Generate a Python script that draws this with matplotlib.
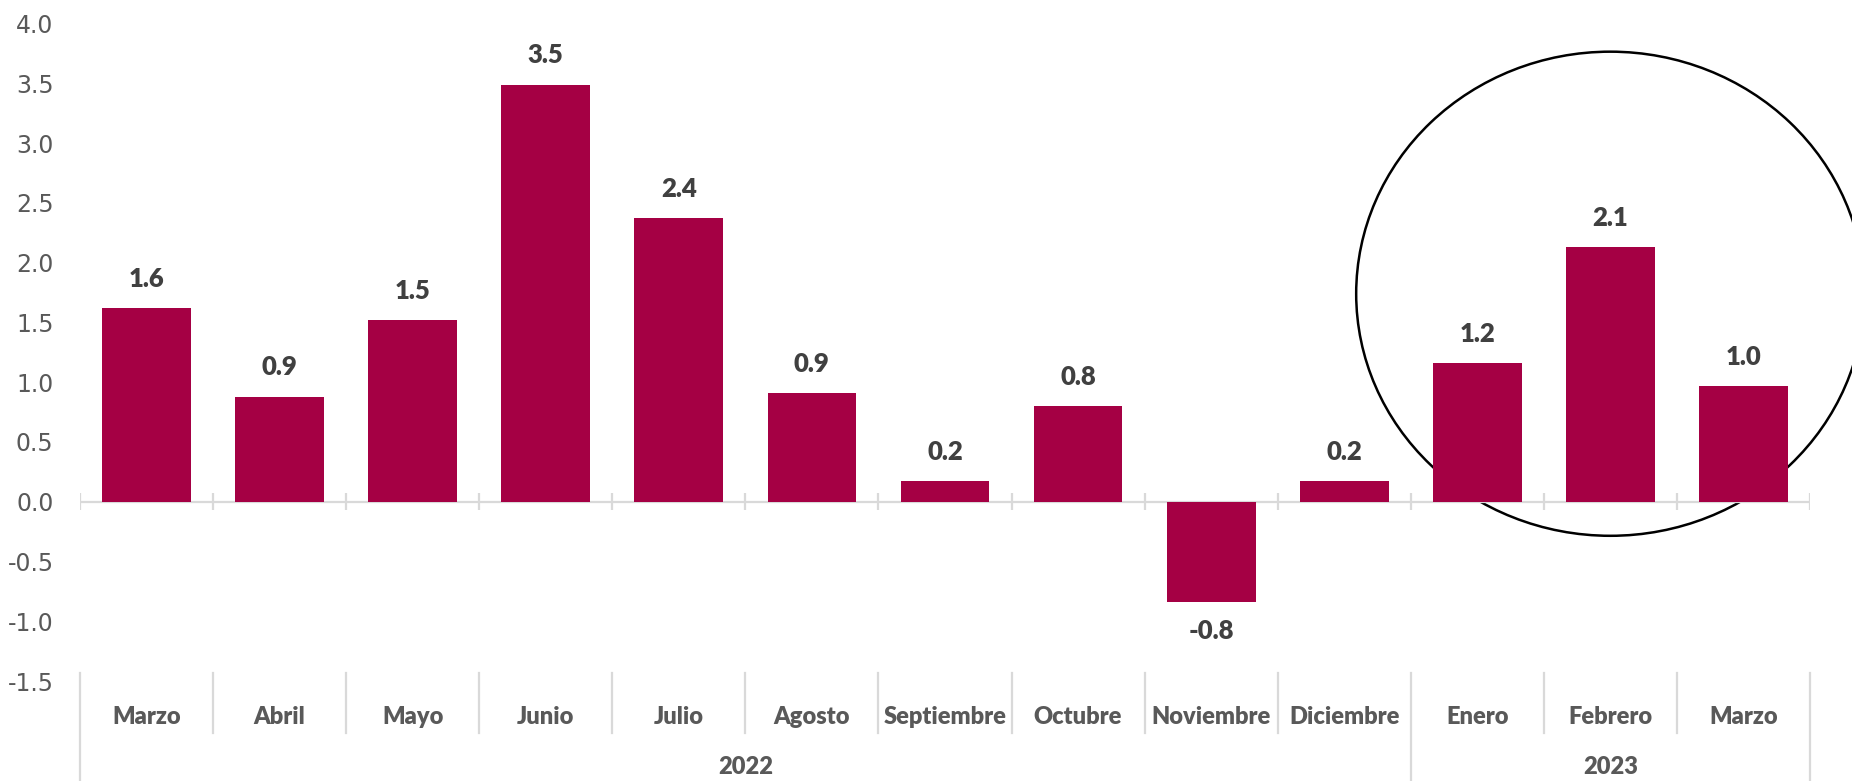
import matplotlib.pyplot as plt
from matplotlib.patches import Ellipse
from matplotlib.transforms import blended_transform_factory

# Monthly values (Marzo 2022 - Marzo 2023)
months = ["Marzo", "Abril", "Mayo", "Junio", "Julio", "Agosto", "Septiembre",
          "Octubre", "Noviembre", "Diciembre", "Enero", "Febrero", "Marzo"]
values = [1.62, 0.88, 1.52, 3.49, 2.37, 0.91, 0.17, 0.80, -0.84, 0.17, 1.16, 2.13, 0.97]
years = ["2022", "2023"]
year_counts = [10, 3]
yticks = [-1.5, -1.0, -0.5, 0.0, 0.5, 1.0, 1.5, 2.0, 2.5, 3.0, 3.5, 4.0]

bar_color = '#A50044'
label_color = '#404040'
axis_gray = '#d9d9d9'
text_gray = '#595959'

fig = plt.figure(figsize=(18.52, 7.81), dpi=100, facecolor='white')
ax = fig.add_axes([0.0432, 0.128, 0.9341, 0.8418])

x = list(range(len(months)))
ax.bar(x, values, width=0.667, color=bar_color, zorder=3)

# data labels
for xi, v in zip(x, values):
    off = 21 if v >= 0 else -21
    ax.annotate(f"{v:.1f}", (xi, v), xytext=(0, off), textcoords='offset points',
                ha='center', va='center', fontsize=18.5, fontweight='heavy',
                color=label_color, family='Lato', zorder=5)

ax.set_xlim(-0.5, len(months) - 0.5)
ax.set_ylim(-1.5, 4.0)
ax.set_yticks(yticks)
ax.set_yticklabels([f"{t:.1f}" for t in yticks], fontsize=17, color=text_gray)
ax.tick_params(axis='y', length=0, pad=19)
ax.set_xticks([])
for s in ax.spines.values():
    s.set_visible(False)

# zero line with crossing tick marks
ax.axhline(0, color=axis_gray, lw=1.6, zorder=2)
bounds = [i - 0.5 for i in range(len(months) + 1)]
ax.vlines(bounds, -0.07, 0.07, color=axis_gray, lw=1.6, zorder=2)

# highlight circle around 2023
circ = Ellipse((11, 1.74), 3.82, 4.05, fill=False, edgecolor='black',
               lw=1.8, zorder=1, clip_on=False)
ax.add_patch(circ)

# multi-level category axis below the plot
trans = blended_transform_factory(ax.transData, fig.transFigure)
year_edges = [-0.5]
for c in year_counts:
    year_edges.append(year_edges[-1] + c)
for b in bounds:
    bottom = 0.0 if b in year_edges else 0.0615
    ax.plot([b, b], [0.138, bottom], transform=trans, color=axis_gray, lw=1.6,
            clip_on=False)
for xi, m in zip(x, months):
    ax.text(xi, 0.082, m, transform=trans, ha='center', va='center', fontsize=17,
            fontweight='heavy', color=text_gray, family='Lato')
for i, y in enumerate(years):
    mid = (year_edges[i] + year_edges[i + 1]) / 2
    ax.text(mid, 0.018, y, transform=trans, ha='center', va='center', fontsize=17,
            fontweight='heavy', color=text_gray, family='Lato')

fig.savefig('out.png', dpi=100, facecolor='white')
